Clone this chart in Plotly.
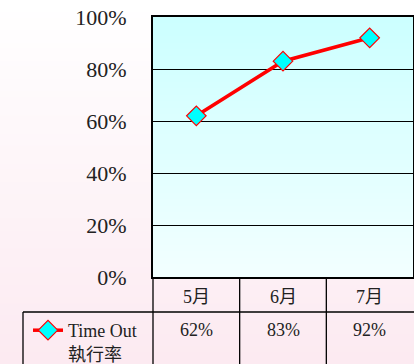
import plotly.graph_objects as go

months = ["5月", "6月", "7月"]
rate = [62, 83, 92]
series_name = "Time Out<br>執行率"
y_ticks = [0, 20, 40, 60, 80, 100]

W, H = 414, 364
L, R, T, B = 153, 1, 17, 87
pw, ph = W - L - R, H - T - B


def px_x(x):
    return (x - L) / pw


def px_y(y):
    return (H - B - y) / ph


def lerp(c1, c2, t):
    return "rgb(%d,%d,%d)" % tuple(round(a + (b - a) * t) for a, b in zip(c1, c2))


shapes = []
# page background gradient
n = 60
top_c, bot_c = (255, 255, 255), (252, 234, 241)
for i in range(n):
    y0 = i * H / n
    y1 = (i + 1) * H / n + 1
    shapes.append(dict(type="rect", xref="paper", yref="paper",
                       x0=px_x(0), x1=px_x(W), y0=px_y(y1), y1=px_y(y0),
                       fillcolor=lerp(top_c, bot_c, i / (n - 1)),
                       line=dict(width=0), layer="below"))
# plot area gradient
m = 40
pt_c, pb_c = (204, 255, 255), (242, 255, 255)
for i in range(m):
    shapes.append(dict(type="rect", xref="paper", yref="paper",
                       x0=0, x1=1, y0=1 - (i + 1) / m - 0.003, y1=1 - i / m,
                       fillcolor=lerp(pt_c, pb_c, i / (m - 1)),
                       line=dict(width=0), layer="below"))

line_style = dict(color="black", width=1.3)
# data table lines
shapes += [
    dict(type="line", xref="paper", yref="paper", x0=0, x1=0, y0=px_y(277), y1=px_y(H + 2), line=line_style),
    dict(type="line", xref="x", yref="paper", x0=0.5, x1=0.5, y0=px_y(277), y1=px_y(H + 2), line=line_style),
    dict(type="line", xref="x", yref="paper", x0=1.5, x1=1.5, y0=px_y(277), y1=px_y(H + 2), line=line_style),
    dict(type="line", xref="paper", yref="paper", x0=px_x(23), x1=px_x(W + 2), y0=px_y(312), y1=px_y(312), line=line_style),
    dict(type="line", xref="paper", yref="paper", x0=px_x(23), x1=px_x(23), y0=px_y(312), y1=px_y(H + 2), line=line_style),
]

txt_font = dict(family="Liberation Serif, Noto Sans CJK TC, serif", size=18, color="#222")
annotations = []
for mth, v in zip(months, rate):
    annotations.append(dict(x=mth, xref="x", y=px_y(297), yref="paper", text=mth,
                            showarrow=False, font=txt_font, xanchor="center", yanchor="middle"))
    annotations.append(dict(x=mth, xref="x", y=px_y(330), yref="paper", text=f"{v}%",
                            showarrow=False, font=txt_font, xanchor="center", yanchor="middle"))

fig = go.Figure()
fig.add_trace(go.Scatter(
    x=months, y=rate, mode="lines+markers", name=series_name,
    line=dict(color="#ff0000", width=3.5),
    marker=dict(symbol="diamond", size=15, color="#00ffff", line=dict(color="#ff0000", width=1.2)),
    cliponaxis=False,
))

fig.update_layout(
    width=W, height=H,
    margin=dict(l=L, r=R, t=T, b=B, autoexpand=False),
    paper_bgcolor="white",
    plot_bgcolor="rgba(0,0,0,0)",
    shapes=shapes,
    annotations=annotations,
    showlegend=True,
    legend=dict(x=px_x(28), xanchor="left", y=px_y(312), yanchor="top",
                bgcolor="rgba(0,0,0,0)", font=txt_font, valign="top",
                itemwidth=30, tracegroupgap=0),
    xaxis=dict(type="category", range=[-0.5, 2.5], showticklabels=False, ticks="",
               showline=True, linecolor="black", linewidth=2, mirror=True,
               showgrid=False, zeroline=False, fixedrange=True),
    yaxis=dict(range=[0, 100], tickvals=y_ticks, ticktext=[f"{t}%" for t in y_ticks],
               tickfont=dict(family="Liberation Serif, serif", size=22, color="#222"),
               ticks="outside", ticklen=20, tickcolor="rgba(0,0,0,0)",
               showline=True, linecolor="black", linewidth=2, mirror=True,
               showgrid=True, gridcolor="black", gridwidth=1, zeroline=False, fixedrange=True),
)

fig.write_html("out.html")
